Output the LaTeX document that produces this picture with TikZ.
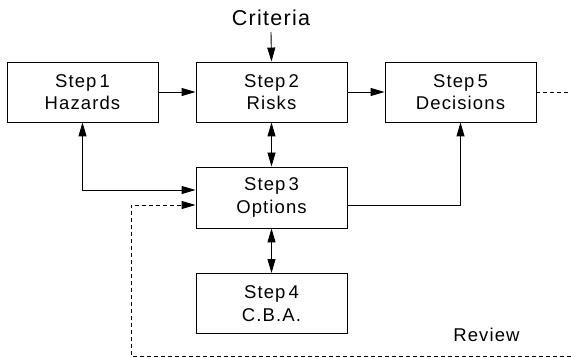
\documentclass[tikz,border=0pt]{standalone}
\usepackage{fontspec}
\setmainfont{Liberation Sans}[LetterSpace=6]
\usetikzlibrary{arrows.meta}

\tikzset{
  stepbox/.style={draw, rectangle, minimum width=151pt, minimum height=60pt,
    inner sep=0pt, align=center, font=\fontsize{18.5}{22.5}\selectfont},
  link/.style={line width=0.9pt, -{Triangle[length=14pt,width=8pt]}},
  duallink/.style={line width=0.9pt, {Triangle[length=14pt,width=8pt]}-{Triangle[length=14pt,width=8pt]}},
  feedback/.style={line width=0.9pt, dash pattern=on 4pt off 3pt},
  label/.style={inner sep=0pt, font=\fontsize{18.5}{22}\selectfont}
}

\begin{document}
\begin{tikzpicture}[x=1pt, y=-1pt, line width=0.9pt]
\useasboundingbox (0,0) rectangle (571,358);

% process steps
\node[stepbox] (s1) at (82.5,92) {Step\,1\\Hazards};
\node[stepbox] (s2) at (271.5,92) {Step\,2\\Risks};
\node[stepbox] (s5) at (460.5,92) {Step\,5\\Decisions};
\node[stepbox, minimum height=61pt] (s3) at (271.5,197.5) {Step\,3\\Options};
\node[stepbox] (s4) at (271.5,303.5) {Step\,4\\C.B.A.};

% external inputs and labels
\node[inner sep=0pt, font=\fontsize{21.5}{24}\selectfont] (crit) at (271,17.5) {Criteria};
\node[label] (rev) at (486.5,335) {Review};
\coordinate (critend) at (271,32);
\coordinate (outend) at (571,92);
\coordinate (revend) at (571,356);
\coordinate (revcorner) at (131,356);

% main flow
\draw[link] (critend) -- (s2.north);
\draw[link] (s1.east) -- (s2.west);
\draw[link] (s2.east) -- (s5.west);
\draw[duallink] (s2.south) -- (s3.north);
\draw[duallink] (s3.south) -- (s4.north);
\draw[duallink] (s1.south) |- ([yshift=7.5pt]s3.west);
\draw[link] ([yshift=-7.5pt]s3.east) -| (s5.south);

% review loop
\draw[feedback] (s5.east) -- (outend);
\draw[feedback, -{Triangle[length=14pt,width=8pt]}] (revend) -- (revcorner) |- ([yshift=-7.5pt]s3.west);
\end{tikzpicture}
\end{document}
